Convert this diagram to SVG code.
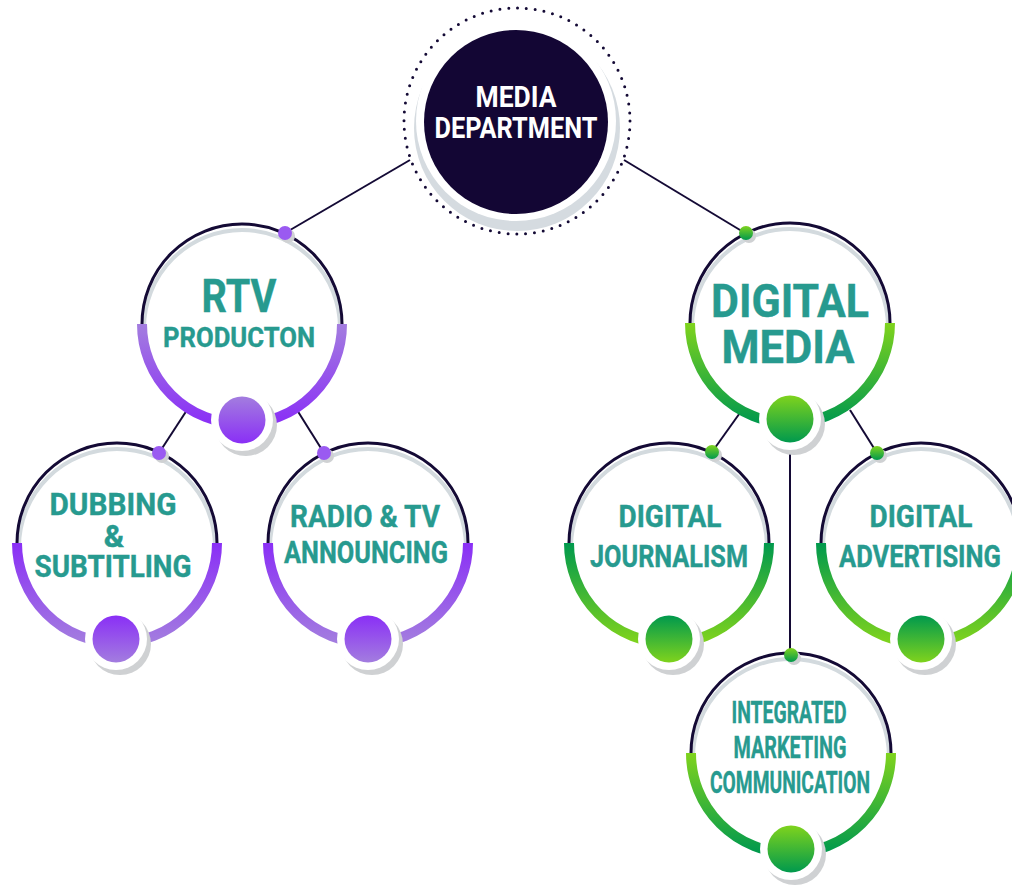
<svg xmlns="http://www.w3.org/2000/svg" width="1012" height="885" viewBox="0 0 1012 885">
  <defs>
    <!-- vertical gradients for bands and balls -->
    <linearGradient id="purpleLightTop" x1="0" y1="0" x2="0" y2="1">
      <stop offset="0" stop-color="#a37ddf"/>
      <stop offset="1" stop-color="#8a2ff6"/>
    </linearGradient>
    <linearGradient id="purpleVividTop" x1="0" y1="0" x2="0" y2="1">
      <stop offset="0" stop-color="#8a2ff6"/>
      <stop offset="1" stop-color="#a37ddf"/>
    </linearGradient>
    <linearGradient id="greenLightTop" x1="0" y1="0" x2="0" y2="1">
      <stop offset="0" stop-color="#7fd31d"/>
      <stop offset="1" stop-color="#00994d"/>
    </linearGradient>
    <linearGradient id="greenDarkTop" x1="0" y1="0" x2="0" y2="1">
      <stop offset="0" stop-color="#00994d"/>
      <stop offset="1" stop-color="#7fd31d"/>
    </linearGradient>
  </defs>
  <style>
    .label { font-family: Roboto, "Liberation Sans", sans-serif; font-weight: 700; fill: #279a8f; stroke: #279a8f; stroke-width: 0.4; text-anchor: middle; }
    .head { font-family: Roboto, "Liberation Sans", sans-serif; font-weight: 700; fill: #ffffff; text-anchor: middle; }
    .link { stroke: #140a35; stroke-width: 2; fill: none; }
    .disc { fill: #ffffff; }
    .ring { stroke: #140a35; stroke-width: 3; fill: none; }
    .ringShade { stroke: #d3dade; stroke-width: 4; fill: none; }
    .band { stroke-width: 10; fill: none; }
    .shade { fill: #cfd1d3; }
    .pad { fill: #ffffff; }
  </style>

  <rect width="1012" height="885" fill="#ffffff"/>

  <!-- connectors -->
  <g id="connectors">
    <line class="link" x1="410" y1="160" x2="285" y2="233"/>
    <line class="link" x1="624" y1="160" x2="745" y2="233"/>
    <line class="link" x1="187" y1="410" x2="159" y2="453"/>
    <line class="link" x1="297" y1="410" x2="324" y2="453"/>
    <line class="link" x1="742" y1="410" x2="712" y2="452"/>
    <line class="link" x1="850" y1="410" x2="877" y2="453"/>
    <line class="link" x1="790" y1="440" x2="790" y2="655"/>
  </g>

  <!-- root -->
  <g id="media-department">
    <circle cx="517" cy="121" r="113" fill="none" stroke="#140a35" stroke-width="3" stroke-linecap="round" stroke-dasharray="0 8.875"/>
    <circle cx="517" cy="128" r="103" fill="#d5dbe0"/>
    <circle cx="516" cy="121" r="100" fill="#ffffff"/>
    <circle cx="516" cy="122" r="92" fill="#130634"/>
    <text class="head" x="516" y="107" font-size="30" textLength="81" lengthAdjust="spacingAndGlyphs">MEDIA</text>
    <text class="head" x="516" y="138" font-size="30" textLength="163" lengthAdjust="spacingAndGlyphs">DEPARTMENT</text>
  </g>

  <!-- RTV production -->
  <g id="rtv-production">
    <circle class="disc" cx="242" cy="324" r="100"/>
    <path class="ringShade" d="M144 328 A98 98 0 0 1 340 328"/>
    <path class="ring" d="M142 324 A100 100 0 0 1 342 324"/>
    <path class="band" stroke="url(#purpleLightTop)" d="M142 324 A100 100 0 0 0 342 324"/>
    <circle class="shade" cx="246" cy="425" r="31"/>
    <circle class="pad" cx="242" cy="420" r="31"/>
    <circle cx="242" cy="420" r="23.5" fill="url(#purpleLightTop)"/>
    <circle class="shade" cx="288" cy="236" r="7"/>
    <circle cx="285" cy="233" r="7" fill="#9a5af1"/>
    <text class="label" x="239" y="312" font-size="46" textLength="75" lengthAdjust="spacingAndGlyphs">RTV</text>
    <text class="label" x="239" y="347" font-size="28" textLength="152" lengthAdjust="spacingAndGlyphs">PRODUCTON</text>
  </g>

  <!-- digital media -->
  <g id="digital-media">
    <circle class="disc" cx="790" cy="323" r="100"/>
    <path class="ringShade" d="M692 327 A98 98 0 0 1 888 327"/>
    <path class="ring" d="M690 323 A100 100 0 0 1 890 323"/>
    <path class="band" stroke="url(#greenLightTop)" d="M690 323 A100 100 0 0 0 890 323"/>
    <circle class="shade" cx="794" cy="424" r="31"/>
    <circle class="pad" cx="790" cy="419" r="31"/>
    <circle cx="790" cy="419" r="23.5" fill="url(#greenLightTop)"/>
    <circle class="shade" cx="749" cy="236" r="7"/>
    <circle cx="746" cy="233" r="7" fill="url(#greenLightTop)"/>
    <text class="label" x="790" y="317" font-size="46" textLength="158" lengthAdjust="spacingAndGlyphs">DIGITAL</text>
    <text class="label" x="788" y="363" font-size="46" textLength="133" lengthAdjust="spacingAndGlyphs">MEDIA</text>
  </g>

  <!-- dubbing & subtitling -->
  <g id="dubbing-subtitling">
    <circle class="disc" cx="117" cy="543" r="100"/>
    <path class="ringShade" d="M19 547 A98 98 0 0 1 215 547"/>
    <path class="ring" d="M17 543 A100 100 0 0 1 217 543"/>
    <path class="band" stroke="url(#purpleVividTop)" d="M17 543 A100 100 0 0 0 217 543"/>
    <circle class="shade" cx="120" cy="644" r="31"/>
    <circle class="pad" cx="116" cy="639" r="31"/>
    <circle cx="116" cy="639" r="23.5" fill="url(#purpleVividTop)"/>
    <circle class="shade" cx="162" cy="456" r="7"/>
    <circle cx="159" cy="453" r="7" fill="#9a5af1"/>
    <text class="label" x="113" y="515" font-size="31" textLength="127" lengthAdjust="spacingAndGlyphs">DUBBING</text>
    <text class="label" x="114" y="547" font-size="31">&amp;</text>
    <text class="label" x="113" y="577" font-size="31" textLength="157" lengthAdjust="spacingAndGlyphs">SUBTITLING</text>
  </g>

  <!-- radio & tv announcing -->
  <g id="radio-tv-announcing">
    <circle class="disc" cx="368" cy="543" r="100"/>
    <path class="ringShade" d="M270 547 A98 98 0 0 1 466 547"/>
    <path class="ring" d="M268 543 A100 100 0 0 1 468 543"/>
    <path class="band" stroke="url(#purpleVividTop)" d="M268 543 A100 100 0 0 0 468 543"/>
    <circle class="shade" cx="372" cy="644" r="31"/>
    <circle class="pad" cx="368" cy="639" r="31"/>
    <circle cx="368" cy="639" r="23.5" fill="url(#purpleVividTop)"/>
    <circle class="shade" cx="327" cy="456" r="7"/>
    <circle cx="324" cy="453" r="7" fill="#9a5af1"/>
    <text class="label" x="365" y="527" font-size="31" textLength="150" lengthAdjust="spacingAndGlyphs">RADIO &amp; TV</text>
    <text class="label" x="366" y="563" font-size="31" textLength="164" lengthAdjust="spacingAndGlyphs">ANNOUNCING</text>
  </g>

  <!-- digital journalism -->
  <g id="digital-journalism">
    <circle class="disc" cx="669" cy="543" r="100"/>
    <path class="ringShade" d="M571 547 A98 98 0 0 1 767 547"/>
    <path class="ring" d="M569 543 A100 100 0 0 1 769 543"/>
    <path class="band" stroke="url(#greenDarkTop)" d="M569 543 A100 100 0 0 0 769 543"/>
    <circle class="shade" cx="673" cy="644" r="31"/>
    <circle class="pad" cx="669" cy="639" r="31"/>
    <circle cx="669" cy="639" r="23.5" fill="url(#greenDarkTop)"/>
    <circle class="shade" cx="715" cy="455" r="7"/>
    <circle cx="712" cy="452" r="7" fill="url(#greenLightTop)"/>
    <text class="label" x="670" y="527" font-size="31" textLength="103" lengthAdjust="spacingAndGlyphs">DIGITAL</text>
    <text class="label" x="669" y="567" font-size="31" textLength="158" lengthAdjust="spacingAndGlyphs">JOURNALISM</text>
  </g>

  <!-- digital advertising -->
  <g id="digital-advertising">
    <circle class="disc" cx="921" cy="543" r="100"/>
    <path class="ringShade" d="M823 547 A98 98 0 0 1 1019 547"/>
    <path class="ring" d="M821 543 A100 100 0 0 1 1021 543"/>
    <path class="band" stroke="url(#greenDarkTop)" d="M821 543 A100 100 0 0 0 1021 543"/>
    <circle class="shade" cx="925" cy="644" r="31"/>
    <circle class="pad" cx="921" cy="639" r="31"/>
    <circle cx="921" cy="639" r="23.5" fill="url(#greenDarkTop)"/>
    <circle class="shade" cx="880" cy="456" r="7"/>
    <circle cx="877" cy="453" r="7" fill="url(#greenLightTop)"/>
    <text class="label" x="921" y="527" font-size="31" textLength="103" lengthAdjust="spacingAndGlyphs">DIGITAL</text>
    <text class="label" x="920" y="567" font-size="31" textLength="162" lengthAdjust="spacingAndGlyphs">ADVERTISING</text>
  </g>

  <!-- integrated marketing communication -->
  <g id="integrated-marketing-communication">
    <circle class="disc" cx="791" cy="753" r="100"/>
    <path class="ringShade" d="M693 757 A98 98 0 0 1 889 757"/>
    <path class="ring" d="M691 753 A100 100 0 0 1 891 753"/>
    <path class="band" stroke="url(#greenLightTop)" d="M691 753 A100 100 0 0 0 891 753"/>
    <circle class="shade" cx="795" cy="854" r="31"/>
    <circle class="pad" cx="791" cy="849" r="31"/>
    <circle cx="791" cy="849" r="23.5" fill="url(#greenLightTop)"/>
    <circle class="shade" cx="794" cy="658" r="7"/>
    <circle cx="791" cy="655" r="7" fill="url(#greenLightTop)"/>
    <text class="label" x="789" y="723" font-size="31" textLength="115" lengthAdjust="spacingAndGlyphs">INTEGRATED</text>
    <text class="label" x="790" y="758" font-size="31" textLength="113" lengthAdjust="spacingAndGlyphs">MARKETING</text>
    <text class="label" x="790" y="793" font-size="31" textLength="160" lengthAdjust="spacingAndGlyphs">COMMUNICATION</text>
  </g>
</svg>
